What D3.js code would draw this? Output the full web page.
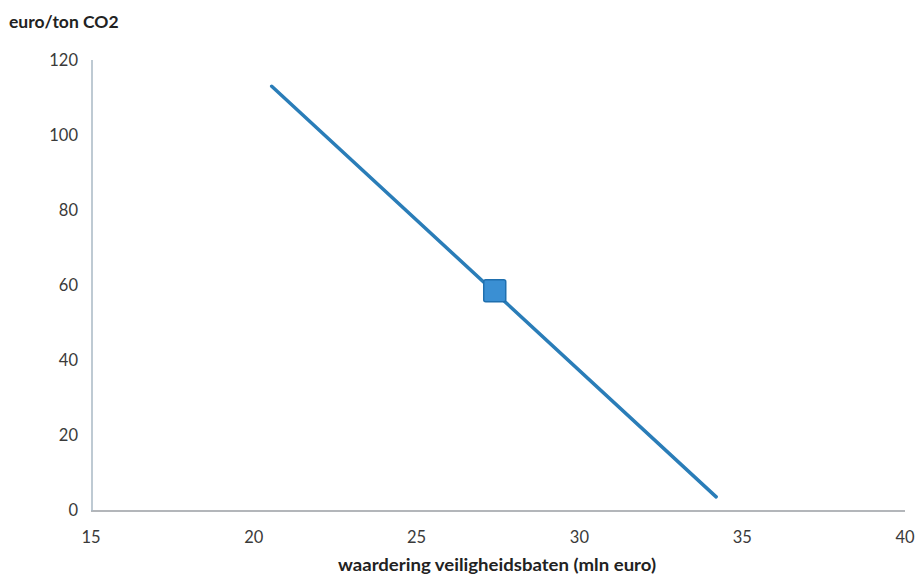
<!DOCTYPE html>
<html><head><meta charset="utf-8">
<script src="https://cdn.jsdelivr.net/npm/d3@7"></script>
<style>body{margin:0;background:#fff}svg{display:block}</style>
</head><body>
<script>
const lineX = [20.55, 34.2];
const lineY = [113, 3.5];
const markerX = [27.4];
const markerY = [58.5];
const xTicks = [15, 20, 25, 30, 35, 40];
const yTicks = [0, 20, 40, 60, 80, 100, 120];
const yTitle = "euro/ton CO2";
const xTitle = "waardering veiligheidsbaten (mln euro)";

const W = 918, H = 578;
const svg = d3.select("body").append("svg").attr("width", W).attr("height", H);
const x = d3.scaleLinear().domain([15, 40]).range([91, 905]);
const y = d3.scaleLinear().domain([0, 120]).range([510, 60]);
const font = "Lato, 'Open Sans', sans-serif";

// axes lines
svg.append("line").attr("x1", x(15)).attr("x2", x(40)).attr("y1", y(0)+1).attr("y2", y(0)+1)
  .attr("stroke", "#9a9ea3").attr("stroke-width", 1.5);
svg.append("line").attr("x1", x(15)+1).attr("x2", x(15)+1).attr("y1", y(120)).attr("y2", y(0)+1)
  .attr("stroke", "#a9b8c4").attr("stroke-width", 1.5);

// tick labels
svg.selectAll(".yt").data(yTicks).enter().append("text")
  .attr("x", 78).attr("y", d => y(d) + 6).attr("text-anchor", "end")
  .attr("font-family", font).attr("font-size", 16.5).attr("fill", "#3a3a3a").text(d => d);
svg.selectAll(".xt").data(xTicks).enter().append("text")
  .attr("x", d => x(d)).attr("y", 543).attr("text-anchor", "middle")
  .attr("font-family", font).attr("font-size", 16.5).attr("fill", "#3a3a3a").text(d => d);

// titles
svg.append("text").attr("x", 9).attr("y", 28).attr("font-family", font).attr("font-weight", "bold")
  .attr("font-size", 17.5).attr("fill", "#222").text(yTitle);
svg.append("text").attr("x", 497).attr("y", 571).attr("text-anchor", "middle").attr("font-family", font)
  .attr("font-weight", "bold").attr("font-size", 16.5).attr("fill", "#222")
  .attr("textLength", 318).attr("lengthAdjust", "spacingAndGlyphs").text(xTitle);

// line
const pts = lineX.map((v, i) => [v, lineY[i]]);
svg.append("path").datum(pts)
  .attr("d", d3.line().x(d => x(d[0])).y(d => y(d[1])))
  .attr("fill", "none").attr("stroke", "#2a7db8").attr("stroke-width", 3.5).attr("stroke-linecap", "round");

// marker
const mk = markerX.map((v, i) => [v, markerY[i]]);
svg.selectAll(".mk").data(mk).enter().append("rect")
  .attr("x", d => x(d[0]) - 11).attr("y", d => y(d[1]) - 11)
  .attr("width", 22).attr("height", 22).attr("rx", 2)
  .attr("fill", "#3a8fd3").attr("stroke", "#1f6fae").attr("stroke-width", 1.5);
</script>
</body></html>
